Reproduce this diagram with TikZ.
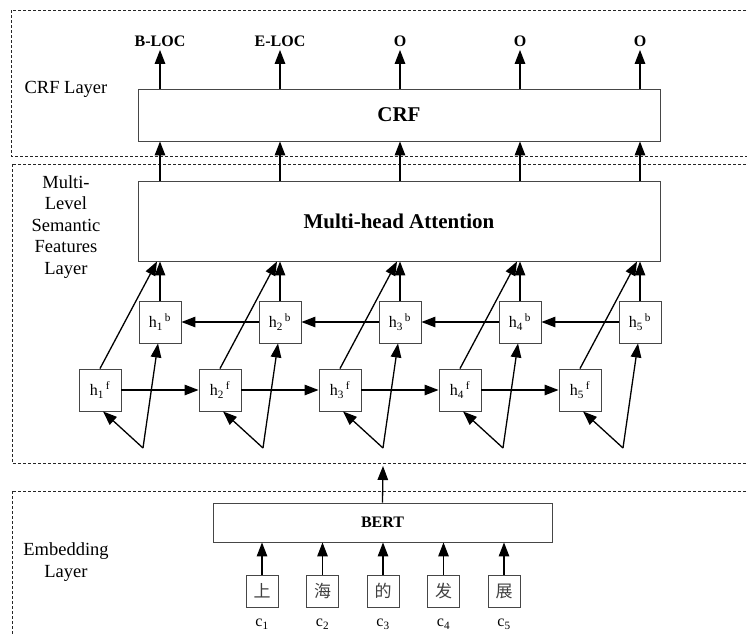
\documentclass[tikz,border=0pt]{standalone}
\usepackage{fontspec}
\setmainfont{Liberation Serif}
\newfontfamily\cjk{Noto Sans CJK SC}
\usetikzlibrary{arrows.meta, positioning, calc}
\definecolor{boxgray}{RGB}{70, 70, 70}
\tikzset{
  flowarrow/.style={-{Triangle[length=14pt, width=10.5pt]}, line width=1.3pt, black},
  layerbox/.style={draw=black!85, dashed, dash pattern=on 3pt off 2pt, line width=0.8pt},
  blockbox/.style={draw=boxgray, line width=0.9pt, rectangle, inner sep=0pt},
  cellbox/.style={blockbox, minimum width=42pt, minimum height=42pt, font=\fontsize{16}{18}\selectfont},
  charbox/.style={blockbox, minimum width=32pt, minimum height=32pt, font=\cjk\fontsize{17}{19}\selectfont, text=black!75},
  layerlabel/.style={align=center, font=\fontsize{18.5}{21.5}\selectfont},
  taglabel/.style={font=\fontsize{16}{18}\selectfont\bfseries}
}

\begin{document}
\begin{tikzpicture}[x=1pt, y=-1pt]
    \useasboundingbox (0,0) rectangle (747,635);

    % --- LAYER FRAMES ---
    \draw[layerbox] (11,10) rectangle (760,156);
    \draw[layerbox] (12,164) rectangle (760,463);
    \draw[layerbox] (12,491) rectangle (760,660);
    \node[layerlabel] (crflabel) at (66,89) {CRF Layer};
    \node[layerlabel] (mlslabel) at (66,227) {Multi-\\Level\\Semantic\\Features\\Layer};
    \node[layerlabel] (emblabel) at (66,562) {Embedding\\Layer};

    % --- CRF LAYER ---
    \node[blockbox, minimum width=522pt, minimum height=52pt, font=\fontsize{21}{24}\selectfont\bfseries] (crf) at (399,115) {CRF};

    % --- MULTI-HEAD ATTENTION ---
    \node[blockbox, minimum width=522pt, minimum height=80pt, font=\fontsize{21}{24}\selectfont\bfseries] (mha) at (399,221) {Multi-head Attention};

    % --- BiLSTM CELLS ---
    \foreach \i in {1,...,5} {
        \node[cellbox] (hb\i) at ({160+120*(\i-1)},322) {h\textsubscript{\i}\textsuperscript{\,b}};
        \node[cellbox] (hf\i) at ({100+120*(\i-1)},390) {h\textsubscript{\i}\textsuperscript{\,f}};
        \coordinate (in\i) at ({143+120*(\i-1)},448);
    }
    \node[taglabel] (tag1) at (hb1 |- 0,41) {B-LOC};
    \node[taglabel] (tag2) at (hb2 |- 0,41) {E-LOC};
    \node[taglabel] (tag3) at (hb3 |- 0,41) {O};
    \node[taglabel] (tag4) at (hb4 |- 0,41) {O};
    \node[taglabel] (tag5) at (hb5 |- 0,41) {O};

    \foreach \i in {1,...,5} {
        \draw[flowarrow] (hb\i |- crf.north) -- (tag\i.south);
        \draw[flowarrow] (hb\i |- mha.north) -- (hb\i |- crf.south);
        \draw[flowarrow] (hb\i.north) -- (hb\i |- mha.south);
        \draw[flowarrow] (hf\i.north) -- ([xshift=-3pt]hb\i |- mha.south);
        \draw[flowarrow] (in\i) -- ([xshift=3pt]hf\i.south);
        \draw[flowarrow] (in\i) -- ([xshift=-2pt]hb\i.south);
    }
    \foreach \i [evaluate=\i as \j using int(\i+1)] in {1,...,4} {
        \draw[flowarrow] (hf\i.east) -- (hf\j.west);
        \draw[flowarrow] (hb\j.west) -- (hb\i.east);
    }

    % --- EMBEDDING LAYER ---
    \node[blockbox, minimum width=339pt, minimum height=39pt, font=\fontsize{16}{18}\selectfont\bfseries] (bert) at (382.5,522.5) {BERT};
    \coordinate (bertout) at (383,466);
    \draw[flowarrow] (bert.north) -- (bertout);

    \foreach \ch [count=\i] in {上,海,的,发,展} {
        \node[charbox] (ch\i) at ({262+60.5*(\i-1)},591) {\ch};
        \node[font=\fontsize{16}{18}\selectfont] (c\i) at (ch\i |- 0,624) {c\textsubscript{\i}};
        \draw[flowarrow] (ch\i.north) -- (ch\i |- bert.south);
    }
\end{tikzpicture}
\end{document}
